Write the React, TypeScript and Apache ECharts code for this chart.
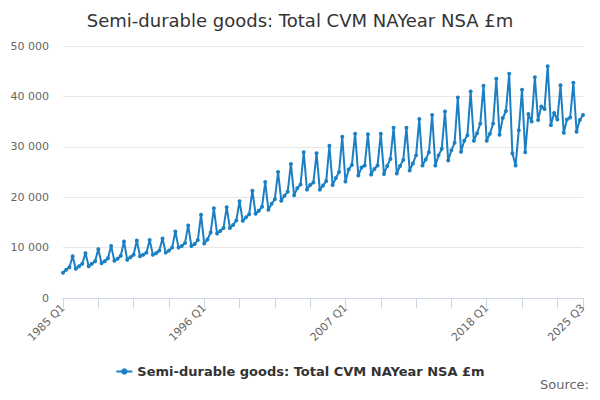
import React, { useEffect, useRef } from 'react';
import * as echarts from 'echarts';

const TITLE = 'Semi-durable goods: Total CVM NAYear NSA £m';
const FIRST_YEAR = 1985;

// quarterly values per year (Q1..Q4), £m
const values: number[] = [
  5000, 5600, 6100, 8300,
  5800, 6300, 6800, 8900,
  6300, 6800, 7300, 9700,
  6900, 7300, 7900, 10300,
  7400, 7800, 8400, 11200,
  7600, 8100, 8600, 11400,
  8300, 8600, 9000, 11500,
  8600, 8900, 9400, 11800,
  9000, 9400, 10000, 13200,
  10000, 10300, 10900, 14400,
  10300, 10700, 11500, 16500,
  10800, 11600, 13000, 17800,
  12800, 13300, 13900, 18000,
  13900, 14500, 15400, 19200,
  15300, 16000, 16600, 21300,
  16700, 17300, 18100, 23000,
  17500, 18700, 19600, 25000,
  19300, 20300, 21100, 26600,
  20400, 21800, 22500, 28900,
  21500, 22400, 22900, 28700,
  21500, 22300, 23200, 30200,
  22400, 23800, 25000, 32000,
  23100, 25500, 26400, 32600,
  24300, 25900, 26300, 32500,
  24500, 25600, 26300, 32600,
  24600, 26200, 27600, 33800,
  24700, 26200, 27400, 33800,
  25300, 26700, 28300, 35500,
  26300, 27500, 28900, 36300,
  26300, 28300, 29600, 37000,
  27300, 29300, 30800, 39800,
  29000, 31200, 32300, 41000,
  31200, 32700, 34600, 42100,
  31200, 32600, 34600, 43500,
  32400, 35700, 37100, 44500,
  28700, 26300, 33300, 41300,
  28900, 36500, 35000, 43800,
  35300, 38000, 37500, 46000,
  34300, 36700, 35400, 42200,
  32800, 35400, 35800, 42700,
  33000, 35300, 36300,
];

const categories: string[] = values.map((_, i) => `${FIRST_YEAR + Math.floor(i / 4)} Q${(i % 4) + 1}`);

const yTicks = [0, 10000, 20000, 30000, 40000, 50000];

export default function App() {
  const ref = useRef<HTMLDivElement>(null);

  useEffect(() => {
    if (!ref.current) return;
    const chart = echarts.init(ref.current, undefined, { renderer: 'svg' });
    const last = values.length - 1;
    chart.setOption({
      animation: false,
      title: {
        text: TITLE,
        left: 'center',
        top: 6,
        textStyle: { color: '#333', fontSize: 18, fontWeight: 'normal', fontFamily: 'DejaVu Sans' },
      },
      graphic: [
        {
          type: 'text',
          right: 11,
          top: 378,
          style: { text: 'Source:', fill: '#666', font: '13px DejaVu Sans' },
        },
      ],
      legend: {
        bottom: 17,
        left: 'center',
        itemWidth: 16,
        itemHeight: 8,
        textStyle: { color: '#333', fontSize: 13, fontWeight: 'bold', fontFamily: 'DejaVu Sans' },
      },
      grid: { left: 63, right: 17, top: 46, bottom: 102 },
      xAxis: {
        type: 'category',
        data: categories,
        boundaryGap: false,
        axisLine: { lineStyle: { color: '#ccd6eb' } },
        axisTick: {
          length: 10,
          lineStyle: { color: '#ccd6eb' },
          interval: (i: number) => i % 11 === 0 || i === last,
        },
        axisLabel: {
          rotate: 45,
          color: '#666',
          fontSize: 11,
          fontFamily: 'DejaVu Sans',
          interval: (i: number) => i % 44 === 0 || i === last,
        },
      },
      yAxis: {
        type: 'value',
        min: yTicks[0],
        max: yTicks[yTicks.length - 1],
        interval: 10000,
        axisLine: { show: false },
        axisTick: { show: false },
        splitLine: { lineStyle: { color: '#e6e6e6' } },
        axisLabel: {
          color: '#666',
          fontSize: 11,
          fontFamily: 'DejaVu Sans',
          margin: 14,
          formatter: (v: number) => String(v).replace(/\B(?=(\d{3})+(?!\d))/g, ' '),
        },
      },
      series: [
        {
          name: TITLE,
          type: 'line',
          data: values,
          symbol: 'circle',
          symbolSize: 4,
          showAllSymbol: true,
          lineStyle: { width: 2, color: '#1b7fc3' },
          itemStyle: { color: '#1b7fc3' },
        },
      ],
    });
    return () => chart.dispose();
  }, []);

  return <div ref={ref} style={{ width: 600, height: 400, margin: -8 }} />;
}
